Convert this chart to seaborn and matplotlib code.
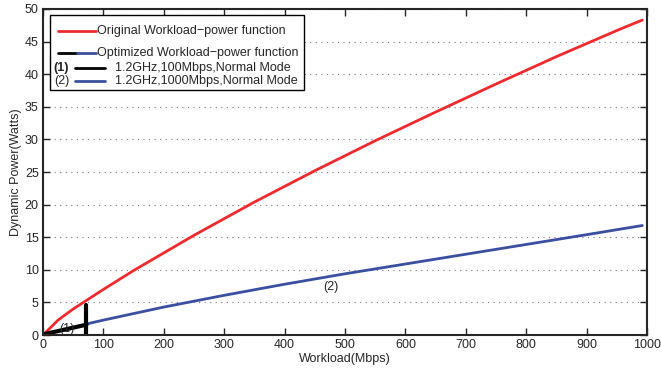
import matplotlib
matplotlib.use("Agg")
import matplotlib.pyplot as plt
import pandas as pd
import seaborn as sns
from matplotlib.patches import Rectangle

# original workload-power function
orig_x = [0, 25, 50, 100, 150, 250, 350, 450, 550, 650, 750, 850, 950, 992]
orig_y = [0, 2.3, 4.0, 7.0, 9.9, 15.3, 20.4, 25.2, 29.8, 34.2, 38.5, 42.7, 46.7, 48.3]

# optimized function, part (1): 100Mbps mode
mode1_x = [0, 72]
mode1_y = [0.1, 1.6]
switch_x = [72, 72]
switch_y = [0, 4.6]

# optimized function, part (2): 1000Mbps mode
mode2_x = [72, 100, 200, 300, 400, 500, 600, 700, 800, 900, 992]
mode2_y = [1.7, 2.3, 4.3, 6.1, 7.8, 9.4, 10.9, 12.4, 13.9, 15.4, 16.8]

RED = "#ee2a2e"
BLUE = "#3a4fa0"

sns.set_style("ticks")
plt.rcParams["font.family"] = ["Liberation Sans", "DejaVu Sans"]
plt.rcParams["font.size"] = 9

fig = plt.figure(figsize=(6.61, 3.74), dpi=100)
ax = fig.add_axes([0.065, 0.104, 0.914, 0.872])

sns.lineplot(x=orig_x, y=orig_y, ax=ax, color=RED, linewidth=2)
sns.lineplot(x=mode2_x, y=mode2_y, ax=ax, color=BLUE, linewidth=2)
sns.lineplot(x=mode1_x, y=mode1_y, ax=ax, color="black", linewidth=3)
sns.lineplot(x=switch_x, y=switch_y, ax=ax, color="black", linewidth=3,
             sort=False, estimator=None)

ax.text(40, 1.0, "(1)", ha="center", va="center", fontsize=9)
ax.text(477, 7.3, "(2)", ha="center", va="center", fontsize=9)

ax.set_xlim(0, 1000)
ax.set_ylim(0, 50)
ax.set_xticks(range(0, 1001, 100))
ax.set_yticks(range(0, 51, 5))
ax.yaxis.grid(True, linestyle=(0, (1, 4)), color="#777777", linewidth=0.8)
ax.tick_params(direction="in", top=True, right=True, length=5, width=1, labelsize=9, pad=3)
for s in ax.spines.values():
    s.set_linewidth(1.5)
ax.set_xlabel("Workload(Mbps)", fontsize=9, labelpad=1)
ax.set_ylabel("Dynamic Power(Watts)", fontsize=9, labelpad=2)

# hand-made legend box, like the original figure
tr = ax.transAxes
ax.add_patch(Rectangle((0.012, 0.752), 0.42, 0.23, transform=tr, facecolor="white",
                       edgecolor="black", linewidth=1, zorder=5))
ax.plot([0.025, 0.087], [0.933, 0.933], transform=tr, color=RED, lw=2, zorder=6)
ax.text(0.09, 0.933, "Original Workload\u2212power function", transform=tr, va="center", zorder=6)
ax.plot([0.025, 0.056], [0.865, 0.865], transform=tr, color="black", lw=2, zorder=6)
ax.plot([0.056, 0.087], [0.865, 0.865], transform=tr, color=BLUE, lw=2, zorder=6)
ax.text(0.09, 0.865, "Optimized Workload\u2212power function", transform=tr, va="center", zorder=6)
ax.text(0.018, 0.82, "(1)", transform=tr, va="center", fontweight="bold", zorder=6)
ax.plot([0.053, 0.103], [0.82, 0.82], transform=tr, color="black", lw=2, zorder=6)
ax.text(0.12, 0.82, "1.2GHz,100Mbps,Normal Mode", transform=tr, va="center", zorder=6)
ax.text(0.018, 0.779, "(2)", transform=tr, va="center", zorder=6)
ax.plot([0.053, 0.103], [0.779, 0.779], transform=tr, color=BLUE, lw=2, zorder=6)
ax.text(0.12, 0.779, "1.2GHz,1000Mbps,Normal Mode", transform=tr, va="center", zorder=6)

fig.savefig("out.png", dpi=100)
